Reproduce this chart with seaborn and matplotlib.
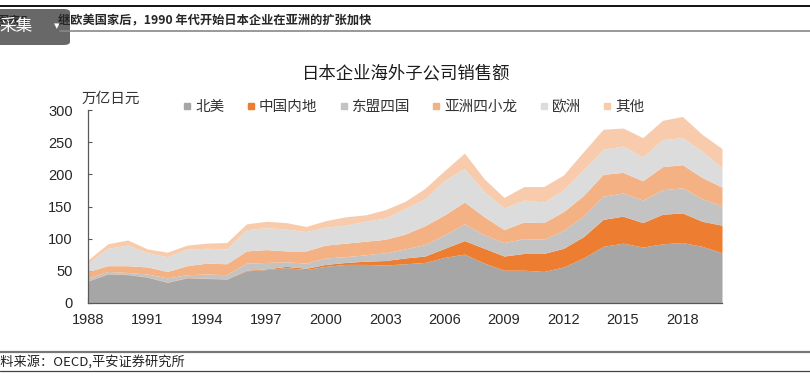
import numpy as np
import seaborn as sns
import matplotlib.pyplot as plt
from matplotlib.lines import Line2D
from matplotlib.patches import FancyBboxPatch

years = list(range(1988, 2021))
north_america = [34, 45, 44, 40, 32, 39, 38, 37, 50, 52, 55, 52, 57, 60, 60, 59, 61,
                 63, 71, 76, 62, 51, 51, 49, 56, 70, 88, 93, 87, 92, 94, 88, 78]
china = [0.5, 0.5, 0.5, 0.5, 0.5, 0.5, 0.5, 0.5, 1, 1, 2, 2, 3, 3, 5, 7, 9,
         10, 14, 21, 23, 22, 26, 28, 29, 33, 42, 42, 38, 46, 46, 39, 43]
asean4 = [4.5, 3.5, 3, 4.5, 6.5, 4.5, 6.5, 6.5, 11, 10, 7, 8, 10, 9, 10, 12, 14,
          18, 21, 26, 21, 21, 23, 22, 28, 32, 36, 36, 35, 38, 39, 35, 30]
nies4 = [10, 9, 10.5, 11, 10, 14, 17, 17, 19, 20, 17, 19, 20, 21, 21, 21, 23,
         29, 31, 34, 28, 20, 26, 26, 29, 32, 34, 32, 30, 36, 36, 33, 29]
europe = [13, 27, 32, 22, 23, 26, 23, 23, 33, 34, 34, 30, 28, 28, 31, 33, 40,
          42, 54, 52, 39, 34, 34, 32, 34, 40, 39, 41, 37, 42, 42, 41, 30]
others = [5, 7, 8, 6, 7, 6, 8, 10, 9, 10, 10, 8, 10, 13, 10, 13, 11,
          16, 15, 24, 20, 16, 21, 24, 23, 28, 31, 28, 30, 30, 33, 26, 30]

series_names = ['北美', '中国内地', '东盟四国', '亚洲四小龙', '欧洲', '其他']
colors = ['#a6a6a6', '#ed7d31', '#c3c3c3', '#f4b183', '#dcdcdc', '#f8cbad']
xticks = list(range(1988, 2019, 3))
yticks = list(range(0, 301, 50))

sns.set_style('white')
cjk = ['Noto Sans CJK SC', 'DejaVu Sans']
plt.rcParams['font.family'] = cjk

W, H = 810, 384
fig = plt.figure(figsize=(W / 100, H / 100), dpi=100)


def fx(x):
    return x / W


def fy(y):
    return 1 - y / H


ax = fig.add_axes([fx(88), fy(303), fx(722) - fx(88), fy(110) - fy(303)])
ax.stackplot(years, north_america, china, asean4, nies4, europe, others,
             colors=colors, linewidth=0)
ax.set_xlim(1988, 2020)
ax.set_ylim(0, 300)
ax.set_xticks(xticks)
ax.set_yticks(yticks)
for lab in ax.get_xticklabels() + ax.get_yticklabels():
    lab.set_family('Liberation Sans')
ax.tick_params(axis='x', direction='in', length=4, width=0.8, color='#595959',
               labelsize=10.5, pad=7, bottom=True)
ax.tick_params(axis='y', direction='in', length=3, width=0.8, color='#595959',
               labelsize=10.5, pad=11, left=True)
ax.spines['top'].set_visible(False)
ax.spines['right'].set_visible(False)
for s in ['left', 'bottom']:
    ax.spines[s].set_color('#595959')
    ax.spines[s].set_linewidth(0.9)

# unit label and title
fig.text(fx(82), fy(99), '万亿日元', fontsize=10.5, va='center', ha='left', color='#333333')
fig.text(fx(406), fy(73), '日本企业海外子公司销售额', fontsize=12.5, va='center', ha='center',
         color='#1a1a1a', fontweight='medium')

handles = [Line2D([0], [0], marker='s', linestyle='none', markersize=5,
                  markerfacecolor=c, markeredgecolor=c) for c in colors]
fig.legend(handles, series_names, ncol=6, loc='center left',
           bbox_to_anchor=(fx(183), fy(107)), frameon=False, fontsize=10.5,
           handlelength=0.6, handletextpad=0.25, columnspacing=1.5,
           borderpad=0, borderaxespad=0, labelcolor='#333333')

# page header
fig.add_artist(Line2D([0, 1], [fy(6), fy(6)], color='#111111', linewidth=1.4))
fig.add_artist(Line2D([fx(60), 1], [fy(31), fy(31)], color='#888888', linewidth=1.2))
fig.text(fx(-4), fy(21), '图表5', fontsize=8.8, fontweight='bold', va='center', ha='left')
fig.text(fx(58), fy(21), '继欧美国家后，1990 年代开始日本企业在亚洲的扩张加快',
         fontsize=8.8, fontweight='bold', va='center', ha='left')

# overlay button
box = FancyBboxPatch((fx(-6), fy(45)), fx(76), fy(9) - fy(45),
                     boxstyle='round,pad=0,rounding_size=0.008',
                     transform=fig.transFigure, facecolor='#5b5b5b', edgecolor='none',
                     alpha=0.92)
fig.add_artist(box)
fig.text(fx(-1), fy(27), '采集', fontsize=12, color='white', va='center', ha='left')
fig.text(fx(57), fy(26), '▾', fontsize=8, color='white', va='center', ha='center',
         family=['DejaVu Sans'])

# source footer
fig.add_artist(Line2D([0, 1], [fy(352), fy(352)], color='#777777', linewidth=1.6))
fig.add_artist(Line2D([0, 1], [fy(371), fy(371)], color='#444444', linewidth=0.9))
fig.text(fx(-13), fy(362), '资料来源：OECD,平安证券研究所', fontsize=9.5, style='italic',
         va='center', ha='left', color='#222222')

fig.savefig('out.png', dpi=100)
